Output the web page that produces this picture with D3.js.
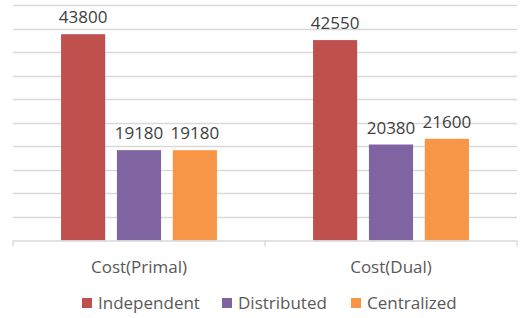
<!DOCTYPE html>
<html>
<head>
<meta charset="utf-8">
<script src="https://cdn.jsdelivr.net/npm/d3@7.9.0/dist/d3.min.js"></script>
<style>
  body { margin: 0; background: #fff; }
  svg { display: block; font-family: "Open Sans", sans-serif; }
</style>
</head>
<body>
<svg id="chart" width="520" height="318"></svg>
<script>
const categories = ['Cost(Primal)', 'Cost(Dual)'];
const seriesNames = ['Independent', 'Distributed', 'Centralized'];
const independent = [43800, 42550];
const distributed = [19180, 20380];
const centralized = [19180, 21600];
const yTicks = d3.range(0, 50001, 5000);

const seriesValues = [independent, distributed, centralized];
const colors = ['#C0504D', '#8064A2', '#F79646'];

const svg = d3.select('#chart');
const plotLeft = 13, plotRight = 517, plotTop = 5, plotBottom = 240.5;

let x0 = d3.scaleBand().domain(categories).range([plotLeft, plotRight]).paddingInner(0).paddingOuter(0);
let x1 = d3.scaleBand().domain(seriesNames).range([0, x0.bandwidth()]).paddingInner(0.21).paddingOuter(0.86);
let y = d3.scaleLinear().domain([0, 50000]).range([plotBottom, plotTop]);

// gridlines
svg.append('g')
  .selectAll('line')
  .data(yTicks.slice(1))
  .join('line')
  .attr('x1', plotLeft).attr('x2', plotRight)
  .attr('y1', d => Math.round(y(d)) + 0.5).attr('y2', d => Math.round(y(d)) + 0.5)
  .attr('stroke', '#D9D9D9').attr('stroke-width', 1.3);

// bars
categories.forEach((cat, ci) => {
  let g = svg.append('g').attr('transform', `translate(${x0(cat)},0)`);
  seriesNames.forEach((s, si) => {
    let v = seriesValues[si][ci];
    g.append('rect')
      .attr('x', x1(s))
      .attr('y', y(v))
      .attr('width', x1.bandwidth())
      .attr('height', y(0) - y(v))
      .attr('fill', colors[si]);
    g.append('text')
      .attr('x', x1(s) + x1.bandwidth() / 2)
      .attr('y', y(v) - 11)
      .attr('text-anchor', 'middle')
      .attr('font-size', 17)
      .attr('fill', '#404040')
      .text(v);
  });
});

// x axis
let axis = svg.append('g');
axis.append('line')
  .attr('x1', plotLeft).attr('x2', plotRight)
  .attr('y1', plotBottom + 0.5).attr('y2', plotBottom + 0.5)
  .attr('stroke', '#D9D9D9').attr('stroke-width', 1.3);
let tickXs = categories.map(c => x0(c)).concat([plotRight]);
axis.selectAll('line.tick')
  .data(tickXs)
  .join('line')
  .attr('class', 'tick')
  .attr('x1', d => d).attr('x2', d => d)
  .attr('y1', plotBottom).attr('y2', plotBottom + 6)
  .attr('stroke', '#D9D9D9').attr('stroke-width', 1.3);
axis.selectAll('text')
  .data(categories)
  .join('text')
  .attr('x', d => x0(d) + x0.bandwidth() / 2)
  .attr('y', 272.5)
  .attr('text-anchor', 'middle')
  .attr('font-size', 17)
  .attr('fill', '#595959')
  .text(d => d);

// legend
let legendX = [82, 222, 351];
let legend = svg.append('g');
seriesNames.forEach((s, i) => {
  legend.append('rect')
    .attr('x', legendX[i]).attr('y', 298)
    .attr('width', 10).attr('height', 10)
    .attr('fill', colors[i]);
  legend.append('text')
    .attr('x', legendX[i] + 16).attr('y', 309)
    .attr('font-size', 17)
    .attr('fill', '#595959')
    .text(s);
});
</script>
</body>
</html>
